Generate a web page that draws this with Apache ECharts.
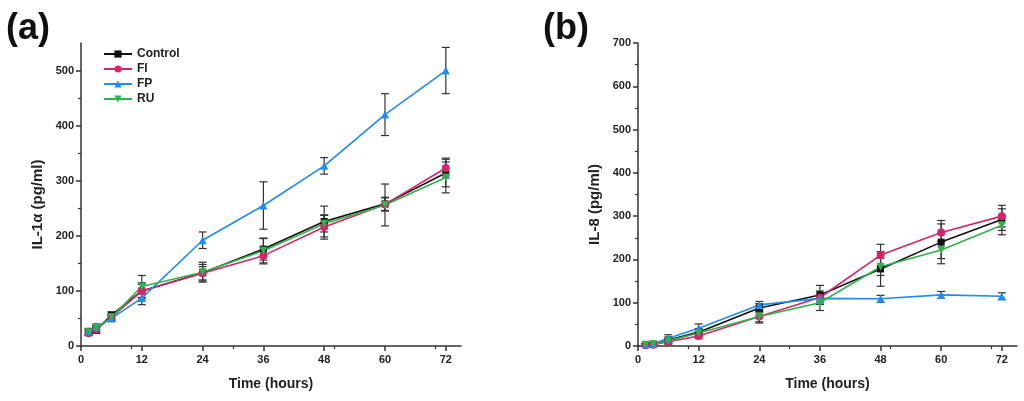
<!DOCTYPE html>
<html>
<head>
<meta charset="utf-8">
<script src="https://cdn.jsdelivr.net/npm/echarts@6/dist/echarts.min.js"></script>
<style>
  html, body { margin: 0; padding: 0; background: #fff; }
  #main { width: 1024px; height: 401px; }
</style>
</head>
<body>
<div id="main"></div>
<script>
// time points (hours)
var hours = [1.5, 3, 6, 12, 24, 36, 48, 60, 72];
var xTicks = [0, 12, 24, 36, 48, 60, 72];

// (a) IL-1a, pg/ml
var aControl = [25, 29, 56, 100, 133, 176, 226, 258, 314];
var aFI      = [23, 30, 52, 100, 132, 164, 216, 257, 323];
var aFP      = [27, 35, 50, 87, 192, 255, 327, 420, 500];
var aRU      = [25, 32, 52, 108, 134, 173, 222, 256, 306];
var aControlErr = [5, 6, 6, 15, 15, 20, 28, 12, 25];
var aFIErr      = [4, 5, 5, 12, 12, 15, 22, 12, 18];
var aFPErr      = [5, 5, 5, 12, 15, 43, 15, 38, 42];
var aRUErr      = [4, 5, 5, 20, 18, 22, 15, 38, 28];

// (b) IL-8, pg/ml
var bControl = [3, 4, 14, 32, 88, 118, 178, 240, 292];
var bFI      = [2, 3, 10, 23, 68, 112, 210, 262, 300];
var bFP      = [4, 5, 18, 41, 95, 110, 109, 118, 115];
var bRU      = [3, 4, 12, 30, 68, 100, 183, 222, 279];
var bControlErr = [2, 2, 6, 8, 10, 22, 40, 50, 25];
var bFIErr      = [2, 2, 6, 6, 12, 15, 25, 20, 25];
var bFPErr      = [2, 2, 8, 10, 8, 8, 8, 8, 8];
var bRUErr      = [2, 2, 6, 8, 15, 18, 20, 20, 22];

var names = ['Control', 'FI', 'FP', 'RU'];
var colors = ['#111111', '#d8236a', '#1f8bf5', '#2eb34c'];
var symbols = ['rect', 'circle', 'triangle', 'path://M0,0 L10,0 L5,9 Z'];

var font = 'Arial, "Liberation Sans", sans-serif';

function pairs(ys) {
    return hours.map(function (h, i) { return [h, ys[i]]; });
}
function errs(ys, es) {
    return hours.map(function (h, i) { return [h, ys[i] - es[i], ys[i] + es[i]]; });
}

function renderErr(params, api) {
    var x = api.value(0);
    var top = api.coord([x, api.value(2)]);
    var bot = api.coord([x, api.value(1)]);
    var w = 4;
    var st = { stroke: '#333', lineWidth: 1.2 };
    return {
        type: 'group',
        children: [
            { type: 'line', shape: { x1: top[0], y1: top[1], x2: bot[0], y2: bot[1] }, style: st },
            { type: 'line', shape: { x1: top[0] - w, y1: top[1], x2: top[0] + w, y2: top[1] }, style: st },
            { type: 'line', shape: { x1: bot[0] - w, y1: bot[1], x2: bot[0] + w, y2: bot[1] }, style: st }
        ]
    };
}

function xAxisOf(idx) {
    return {
        type: 'value', gridIndex: idx, min: 0, max: 75,
        name: 'Time (hours)', nameLocation: 'middle', nameGap: 31,
        nameTextStyle: { fontFamily: font, fontWeight: 'bold', fontSize: 14, color: '#222' },
        axisLine: { lineStyle: { color: '#333', width: 1.5 } },
        axisTick: { customValues: xTicks, length: 5, lineStyle: { color: '#333', width: 1.5 } },
        minorTick: { show: true, splitNumber: 2, length: 3, lineStyle: { color: '#333', width: 1.2 } },
        axisLabel: { customValues: xTicks, fontFamily: font, fontWeight: 'bold', fontSize: 11, color: '#222', margin: 8 },
        splitLine: { show: false }
    };
}

function yAxisOf(idx, max, labels, name) {
    return {
        type: 'value', gridIndex: idx, min: 0, max: max, interval: 100,
        name: name, nameLocation: 'middle', nameGap: 36,
        nameTextStyle: { fontFamily: font, fontWeight: 'bold', fontSize: 15, color: '#222', padding: [0, 20, 0, 0] },
        axisLine: { show: true, lineStyle: { color: '#333', width: 1.5 } },
        axisTick: { show: true, customValues: labels, length: 5, lineStyle: { color: '#333', width: 1.5 } },
        minorTick: { show: true, splitNumber: 2, length: 3, lineStyle: { color: '#333', width: 1.2 } },
        axisLabel: { customValues: labels, fontFamily: font, fontWeight: 'bold', fontSize: 11, color: '#222', margin: 7 },
        splitLine: { show: false }
    };
}

var sets = [
    [[aControl, aControlErr], [aFI, aFIErr], [aFP, aFPErr], [aRU, aRUErr]],
    [[bControl, bControlErr], [bFI, bFIErr], [bFP, bFPErr], [bRU, bRUErr]]
];

var series = [];
sets.forEach(function (set, g) {
    set.forEach(function (s, k) {
        series.push({
            type: 'custom', xAxisIndex: g, yAxisIndex: g, z: 1,
            renderItem: renderErr, data: errs(s[0], s[1]),
            encode: { x: 0, y: [1, 2] }, silent: true
        });
    });
    set.forEach(function (s, k) {
        series.push({
            name: names[k], type: 'line', xAxisIndex: g, yAxisIndex: g, z: 3,
            data: pairs(s[0]),
            symbol: symbols[k], symbolSize: k === 0 ? 7 : 8,
            showAllSymbol: true,
            lineStyle: { color: colors[k], width: 1.6 },
            itemStyle: { color: colors[k] }
        });
    });
});

var chart = echarts.init(document.getElementById('main'));
chart.setOption({
    backgroundColor: '#fff',
    animation: false,
    title: [
        { text: '(a)', left: 1, top: 6, textStyle: { fontFamily: font, fontWeight: 'bold', fontSize: 36, color: '#111' } },
        { text: '(b)', left: 538, top: 6, textStyle: { fontFamily: font, fontWeight: 'bold', fontSize: 36, color: '#111' } }
    ],
    legend: {
        data: names, orient: 'vertical', left: 98, top: 43,
        itemWidth: 28, itemHeight: 9, itemGap: 3,
        textStyle: { fontFamily: font, fontWeight: 'bold', fontSize: 12, color: '#222' }
    },
    grid: [
        { left: 81, top: 43, width: 380, bottom: 55 },
        { left: 638, top: 43, right: 7, bottom: 55 }
    ],
    xAxis: [xAxisOf(0), xAxisOf(1)],
    yAxis: [
        yAxisOf(0, 550, [0, 100, 200, 300, 400, 500], 'IL-1α (pg/ml)'),
        yAxisOf(1, 700, [0, 100, 200, 300, 400, 500, 600, 700], 'IL-8 (pg/ml)')
    ],
    series: series
});
</script>
</body>
</html>
